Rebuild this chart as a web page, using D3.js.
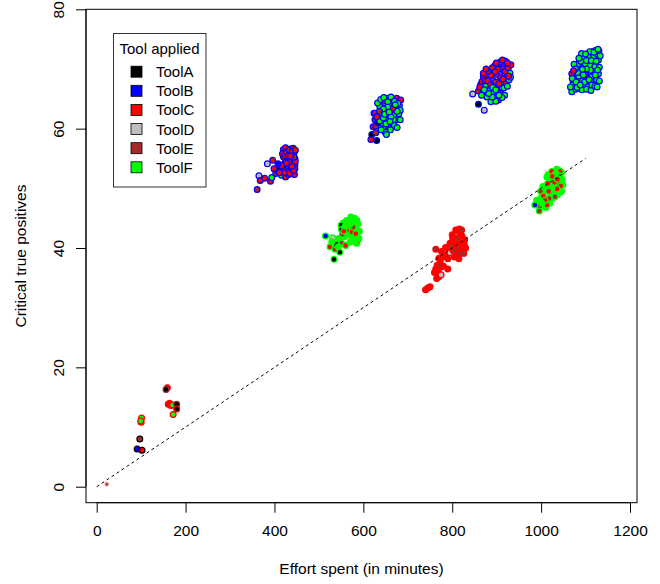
<!DOCTYPE html>
<html>
<head>
<meta charset="utf-8">
<script src="https://cdn.jsdelivr.net/npm/d3@7"></script>
<style>
  body { margin: 0; background: #fff; }
  svg text { font-family: "Liberation Sans", Arial, sans-serif; fill: #000; }
</style>
</head>
<body>
<div id="chart"></div>
<script>
// tools and their colours (index used in the run arrays below)
var tools = ["ToolA", "ToolB", "ToolC", "ToolD", "ToolE", "ToolF"];
var toolColors = ["#000000", "#0000ff", "#ff0000", "#bebebe", "#a52a2a", "#00ff00"];

var xTicks = [0, 200, 400, 600, 800, 1000, 1200];
var yTicks = [0, 20, 40, 60, 80];

// [effort, critical true positives, tool applied]
var runsB400 = [
  [361,49.8,4],[365,52.1,3],[368,51.3,2],[378,51.7,2],[384,54.1,3],[391,51.2,2],[394,51.8,5],[396,54.7,2],
  [403,52.5,4],[406,53.0,0],[412,53.4,0],[416,52.2,5],[425,51.9,2],[433,53.0,0],
  [420,56.5,4],[425,56.8,2],[430,56.2,2],[436,56.6,2],[442,56.7,2],[439,55.8,4],[446,55.0,2],[424,54.4,2],
  [428,55.3,4],[433,55.0,2],[437,54.3,2],[441,54.2,2],[446,53.9,2],[430,53.8,4],[435,53.6,2],[446,53.3,2],
  [440,52.6,2],[420,55.3,2],[426,53.3,2],[444,56.0,2],[421,54.0,4],[432,52.3,2],[438,52.9,4],[445,52.3,2],
  [418,55.8,2],[423,55.6,2],[427,56.0,2],[431,55.5,2],[434,56.4,4],[440,56.2,2],[447,56.4,2],[419,53.2,2],
  [423,53.0,4],[429,52.8,2],[434,52.5,2],[443,53.0,2],[447,54.5,2],[439,53.7,2],[432,54.4,2],[427,54.2,2],
  [422,52.6,2],[444,55.2,4],[436,55.4,2],[416,53.8,2],[411,52.6,2],[399,53.3,2],[408,54.1,1]
];
var runsB650 = [
  [617,58.2,2],[630,58.0,0],[619,59.0,0],[628,59.3,4],[622,60.3,2],[626,61.5,4],[624,62.6,4],
  [634,62.5,5],[649,63.4,5],[667,63.9,5],[671,62.3,5],[656,61.7,5],[646,60.1,5],[649,59.4,5],[640,61.5,2],
  [628,60.4,4],[675,61.5,5],[664,64.8,5],[652,65.1,5],[675,65.1,2],[681,63.9,5],[637,63.7,5],[626,62.6,4],
  [660,63.0,5],[641,60.9,5],[665,60.9,5],[656,60.3,4],[671,63.2,5],[680,62.5,5],[645,64.6,2],[658,64.2,5],
  [633,61.0,0],[668,61.5,5],[684,64.8,2],[641,62.6,5],[652,62.3,2],[662,62.0,5],
  [632,64.3,5],[639,64.9,5],[646,65.2,5],[655,64.5,5],[662,65.3,5],[670,64.6,5],[678,64.2,5],[683,63.1,5],
  [676,62.9,5],[666,63.4,2],[655,63.6,5],[645,63.3,5],[636,62.9,4],[630,61.8,5],[637,61.3,5],[645,61.8,5],
  [651,60.8,5],[660,61.2,5],[670,60.5,5],[676,60.2,5],[661,59.8,5],[640,59.8,5],[652,59.0,5],[630,62.0,2],
  [648,62.4,5],[672,64.0,5],[683,61.5,5],[658,62.8,5]
];
var runsB900 = [
  [846,65.8,3],[859,64.1,0],[872,63.1,3],
  [859,66.3,2],[869,66.0,2],[870,68.7,2],[878,68.8,2],[885,66.4,5],[893,65.9,5],[878,65.3,5],[896,65.1,5],
  [887,64.5,5],[904,64.8,2],[909,66.0,2],[900,67.0,2],[881,67.6,4],[889,68.2,2],[908,68.7,2],[899,69.1,2],
  [911,67.8,5],[921,67.6,2],[928,68.2,5],[923,69.0,2],[915,69.8,2],[906,70.9,2],[917,70.8,2],[928,70.6,2],
  [896,70.6,1],[925,69.8,2],[893,68.0,5],[902,66.1,5],[916,66.8,5],[864,67.4,2],[875,67.1,5],[897,67.8,4],
  [912,70.0,2],[920,71.3,2],[930,69.3,5],[884,69.3,2],[890,70.2,2],
  [862,67.0,2],[867,67.9,2],[874,68.1,2],[880,68.0,2],[886,67.3,2],[891,66.9,5],[898,66.5,5],[905,67.5,2],
  [914,68.3,2],[919,69.6,2],[926,70.2,2],[932,70.7,2],[931,68.6,5],[924,67.1,5],[918,65.6,5],[912,65.2,5],
  [905,65.6,5],[898,64.6,5],[890,65.3,5],[882,65.9,5],[872,66.5,5],[866,65.6,5],[903,69.9,2],[909,71.2,2],
  [913,71.5,2],[924,71.0,2],[896,69.5,2],[887,68.9,2],[880,69.6,2],[870,69.3,2],[876,70.0,2],[899,71.0,2],
  [927,68.8,2]
];
var runsB1100 = [
  [1069,66.2,5],[1072,67.6,5],[1084,67.0,5],[1095,67.3,5],[1106,67.0,5],[1117,67.6,5],[1125,68.2,5],
  [1114,68.7,5],[1103,68.4,5],[1088,68.4,5],[1076,68.9,2],[1069,69.2,2],[1080,70.1,5],[1095,70.4,5],
  [1110,70.6,5],[1121,70.4,5],[1129,71.5,5],[1117,72.0,5],[1106,72.0,5],[1095,71.8,5],[1125,72.6,5],
  [1114,72.9,5],[1099,70.9,5],[1084,70.9,5],[1088,69.5,5],[1117,69.5,5],[1106,69.5,5],[1129,69.2,5],
  [1072,68.2,4],[1078,66.6,5],[1092,66.5,5],[1100,69.0,2],[1130,73.0,5],[1122,73.1,5],[1091,72.6,5],
  [1111,68.0,5],[1131,70.3,5],[1074,70.8,5],
  [1066,67.0,5],[1070,68.4,5],[1079,67.8,5],[1085,68.8,5],[1093,68.0,5],[1098,67.8,5],[1108,68.2,5],
  [1114,67.3,5],[1121,67.1,5],[1126,67.0,5],[1131,68.0,5],[1127,69.8,5],[1122,69.0,5],[1111,69.8,5],
  [1102,70.0,5],[1093,69.9,5],[1082,69.4,5],[1077,70.0,5],[1089,71.3,5],[1102,71.4,5],[1113,71.4,5],
  [1124,71.3,5],[1133,72.2,5],[1109,72.9,5],[1100,72.5,5],[1119,72.8,5],[1128,73.3,5],[1081,66.9,5],
  [1088,67.3,5],[1102,66.6,5],[1112,66.4,5],[1073,69.7,2],[1085,71.8,5],[1095,69.0,5]
];
var runsF550 = [
  [555,44.2,5],[562,44.6,5],[572,45.2,5],[578,44.5,5],[588,44.1,5],[591,42.8,5],[584,43.2,5],[575,41.8,5],
  [568,42.2,5],[557,41.9,5],[545,41.6,5],[538,41.2,5],[570,41.0,5],[585,40.8,5],
  [515,42.0,1],[531,41.7,3],[534,38.1,0],[547,39.3,0],[525,40.2,2],[536,39.8,4],[539,40.6,0],[551,40.8,4],
  [560,40.4,2],[550,43.8,0],[551,43.1,0],[553,42.3,4],[563,43.0,2],[566,43.8,2],[574,42.7,2],[583,42.4,2],
  [577,43.5,4],[585,44.7,5],[587,41.2,2],[590,41.6,5],[544,40.2,5],[581,41.0,5],[580,45.0,5],[570,44.0,5],
  [529,41.0,5],[558,43.5,5],[556,42.8,2]
];
var runsC800 = [
  [800,42.2,2],[815,41.2,2],[823,41.4,2],[827,40.6,2],[812,39.5,2],[820,39.6,2],[804,39.2,2],[793,39.6,2],
  [785,40.1,2],[778,38.5,2],[770,38.3,2],[766,37.1,2],[760,35.9,2],[765,34.9,2],[775,36.8,2],[780,37.0,2],
  [790,36.5,2],[816,43.2,2],[830,40.0,2],[808,41.0,2],
  [740,33.0,2],[745,33.3,2],[750,33.5,2],[763,36.5,2],[768,36.0,2],[770,35.2,2],[775,35.5,3],[771,37.1,4],
  [773,37.7,2],[763,39.8,4],[776,39.4,2],[784,38.8,2],[795,39.2,3],[802,39.6,4],[817,39.1,4],[826,39.1,4],
  [814,40.2,4],[820,40.9,2],[810,41.6,4],[818,42.5,2],[801,41.6,2],[795,40.8,2],[806,40.5,2],[825,40.2,2],
  [812,42.8,2],[822,42.0,2],[805,38.5,2],[790,38.2,2],[815,38.2,2],[828,41.4,2],[808,43.0,2],[798,40.2,4],
  [821,43.0,4]
];
var runsF1000 = [
  [1035,53.2,5],[1040,53.0,5],[1046,52.6,5],[1049,50.6,5],[1042,49.3,5],[1029,49.6,5],[1021,51.0,5],
  [1016,52.3,5],[1010,50.4,5],[1006,49.6,5],[1000,48.4,5],[993,47.3,5],[998,47.8,5],[1011,46.8,5],
  [1019,47.5,5],[1025,48.3,5],[1036,48.9,5],[1046,49.5,5],
  [1024,52.8,2],[1043,52.8,2],[1039,52.2,2],[1028,51.4,2],[1039,50.8,2],[1044,50.4,2],[1036,49.9,2],
  [1020,49.4,2],[999,49.5,4],[1005,48.7,2],[997,46.9,4],[996,46.2,4],[1013,47.2,2],[990,48.0,5],
  [1004,50.3,5],[1024,50.3,5],[1013,51.9,5],[1031,48.6,4],[1018,48.3,4],[986,47.2,1],[1009,48.0,2],
  [1033,52.5,5],[1047,51.5,5],[1030,51.0,2],[1002,47.5,5],[1015,50.8,2],
  [1025,52.0,2],[1037,51.5,2],[1017,49.5,2]
];
// [effort, critical true positives, tool applied, outline tool]
var lowRuns = [
  [91,6.3,1,0],[102,6.1,2,0],[97,8.0,4,0],[100,10.8,5,2],[101,11.5,5,2],[99,11.0,5,2],[159,16.6,4,2],
  [156,16.3,0,4],[161,13.8,2,2],[164,14.0,2,2],[167,13.6,2,2],[171,13.7,5,2],[180,13.8,0,4],[180,13.0,0,2],
  [172,12.1,5,2]
];
var startRun = [[22.5, 0.4, 4, 4]];

// groups share an outline colour
var groups = [
  { outline: 1, runs: runsB400 },
  { outline: 1, runs: runsB650 },
  { outline: 1, runs: runsB900 },
  { outline: 1, runs: runsB1100 },
  { outline: 5, runs: runsF550 },
  { outline: 2, runs: runsC800 },
  { outline: 5, runs: runsF1000 }
];

var width = 660, height = 584;
var box = { left: 86, right: 637, top: 9.3, bottom: 502.7 };

var svg = d3.select("#chart").append("svg")
  .attr("width", width).attr("height", height);

var x = d3.scaleLinear().domain([0, 1200]).range([96.7, 630]);
var y = d3.scaleLinear().domain([0, 80]).range([486.7, 9.3]);

// points
var allPoints = [];
groups.forEach(function (g) {
  g.runs.forEach(function (r) { allPoints.push({ x: r[0], y: r[1], fill: r[2], line: g.outline, r: 2.9 }); });
});
lowRuns.forEach(function (r) { allPoints.push({ x: r[0], y: r[1], fill: r[2], line: r[3], r: 2.9 }); });
startRun.forEach(function (r) { allPoints.push({ x: r[0], y: r[1], fill: r[2], line: r[3], r: 1.6 }); });

svg.append("g").selectAll("circle")
  .data(allPoints)
  .enter().append("circle")
  .attr("cx", function (d) { return x(d.x); })
  .attr("cy", function (d) { return y(d.y); })
  .attr("r", function (d) { return d.r; })
  .attr("fill", function (d) { return toolColors[d.fill]; })
  .attr("stroke", function (d) { return d.r < 2 ? "#d98080" : toolColors[d.line]; })
  .attr("stroke-width", 1.2);

// reference line, drawn over the points like the original
svg.append("line")
  .attr("x1", x(0)).attr("y1", y(0))
  .attr("x2", x(1100)).attr("y2", y(55))
  .attr("stroke", "#000").attr("stroke-width", 1)
  .attr("stroke-dasharray", "3,3");

// frame
svg.append("rect")
  .attr("x", box.left).attr("y", box.top)
  .attr("width", box.right - box.left).attr("height", box.bottom - box.top)
  .attr("fill", "none").attr("stroke", "#000").attr("stroke-width", 1);

// axes
var xAxis = svg.append("g")
  .attr("transform", "translate(0," + box.bottom + ")")
  .call(d3.axisBottom(x).tickValues(xTicks).tickSize(10).tickPadding(12).tickFormat(d3.format("d")));
xAxis.select(".domain").attr("d", "M" + x(0) + ",0H" + x(1200));
xAxis.selectAll("text").style("font-size", "15.5px");

var yAxis = svg.append("g")
  .attr("transform", "translate(" + box.left + ",0)")
  .call(d3.axisLeft(y).tickValues(yTicks).tickSize(10).tickFormat(d3.format("d")));
yAxis.select(".domain").attr("d", "M0," + y(0) + "V" + y(80));
yAxis.selectAll("text")
  .style("font-size", "15.5px")
  .attr("text-anchor", "middle")
  .attr("x", null).attr("dy", null)
  .attr("transform", "translate(-22,0) rotate(-90)");

svg.append("text")
  .attr("x", (box.left + box.right) / 2).attr("y", 573.5)
  .attr("text-anchor", "middle").style("font-size", "15.5px")
  .text("Effort spent (in minutes)");

svg.append("text")
  .attr("transform", "translate(26," + (box.top + box.bottom) / 2 + ") rotate(-90)")
  .attr("text-anchor", "middle").style("font-size", "15.5px")
  .text("Critical true positives");

// legend
var legend = svg.append("g");
legend.append("rect")
  .attr("x", 113.5).attr("y", 33.5).attr("width", 92.5).attr("height", 153.5)
  .attr("fill", "#fff").attr("stroke", "#333").attr("stroke-width", 1);
legend.append("text")
  .attr("x", 159.5).attr("y", 53.5).attr("text-anchor", "middle")
  .style("font-size", "15px").text("Tool applied");
var rowY = d3.scaleLinear().domain([0, 5]).range([71.7, 167.3]);
tools.forEach(function (t, i) {
  legend.append("rect")
    .attr("x", 131).attr("y", rowY(i) - 5.5).attr("width", 11).attr("height", 11)
    .attr("fill", toolColors[i]).attr("stroke", "#000").attr("stroke-width", 0.8);
  legend.append("text")
    .attr("x", 156).attr("y", rowY(i) + 5.5)
    .style("font-size", "15px").text(t);
});
</script>
</body>
</html>
